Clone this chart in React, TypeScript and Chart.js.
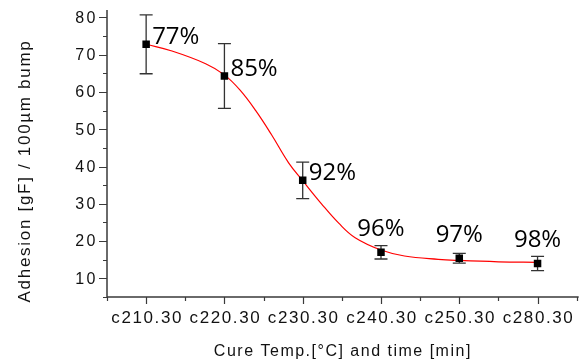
import React, { useEffect, useRef } from 'react';
import { Chart, registerables } from 'chart.js';

Chart.register(...registerables);

// ---- data ----
const categories = ['c210.30', 'c220.30', 'c230.30', 'c240.30', 'c250.30', 'c280.30'];
const adhesion = [72.8, 64.3, 36.3, 17.0, 15.4, 14.0];
const adhesionError = [7.9, 8.7, 4.9, 1.8, 1.3, 1.9];
const yieldLabels = ['77%', '85%', '92%', '96%', '97%', '98%'];
const yieldLabelSide = ['right', 'right', 'right', 'above', 'above', 'above'];

// red fit curve (x in category index units)
const fitX = [0, 0.33, 0.76, 1.0, 1.2, 1.4, 1.6, 1.82, 2.0, 2.24, 2.46, 2.67, 3.0, 3.3, 3.73, 4.0, 4.5, 5.0];
const fitY = [72.8, 71.0, 67.6, 64.6, 60.5, 55.0, 48.6, 41.0, 36.2, 30.0, 24.8, 20.9, 17.6, 16.0, 15.1, 14.8, 14.45, 14.3];

const yMajorTicks = [10, 20, 30, 40, 50, 60, 70, 80];
const yMinorTicks = [5, 15, 25, 35, 45, 55, 65, 75];
const xMinorTicks = [-0.5, 0.5, 1.5, 2.5, 3.5, 4.5, 5.5];

const xTitle = 'Cure Temp.[°C] and time [min]';
const yTitle = 'Adhesion [gF] / 100µm bump';

const AXIS_COLOR = '#3a3a3a';
const TEXT_COLOR = '#111';

const originPlugin = {
  id: 'originLook',
  beforeDatasetsDraw(chart: any) {
    const ctx = chart.ctx;
    const xs = chart.scales.x;
    const ys = chart.scales.y;
    ctx.save();
    ctx.strokeStyle = '#333';
    ctx.lineWidth = 1.3;
    adhesion.forEach((v, i) => {
      const px = xs.getPixelForValue(i);
      const top = ys.getPixelForValue(v + adhesionError[i]);
      const bot = ys.getPixelForValue(v - adhesionError[i]);
      ctx.beginPath();
      ctx.moveTo(px, top);
      ctx.lineTo(px, bot);
      ctx.moveTo(px - 6.5, top);
      ctx.lineTo(px + 6.5, top);
      ctx.moveTo(px - 6.5, bot);
      ctx.lineTo(px + 6.5, bot);
      ctx.stroke();
    });
    ctx.restore();
  },
  afterDatasetsDraw(chart: any) {
    const ctx = chart.ctx;
    const xs = chart.scales.x;
    const ys = chart.scales.y;
    ctx.save();
    ctx.fillStyle = '#000';
    ctx.font = '24px "Open Sans"';
    ctx.textBaseline = 'alphabetic';
    yieldLabels.forEach((t, i) => {
      const px = xs.getPixelForValue(i);
      const py = ys.getPixelForValue(adhesion[i]);
      if (yieldLabelSide[i] === 'right') {
        ctx.textAlign = 'left';
        ctx.fillText(t, px + 6, py);
      } else {
        ctx.textAlign = 'center';
        ctx.fillText(t, px, py - 16);
      }
    });
    ctx.restore();
  },
  afterDraw(chart: any) {
    const ctx = chart.ctx;
    const xs = chart.scales.x;
    const ys = chart.scales.y;
    const { left, right, top, bottom } = chart.chartArea;
    ctx.save();
    // axis lines
    ctx.strokeStyle = AXIS_COLOR;
    ctx.lineWidth = 1.5;
    ctx.beginPath();
    ctx.moveTo(left, top);
    ctx.lineTo(left, bottom);
    ctx.lineTo(right + 2, bottom);
    ctx.stroke();
    // y ticks
    ctx.lineWidth = 1.2;
    ctx.beginPath();
    yMajorTicks.forEach((v) => {
      const py = Math.round(ys.getPixelForValue(v)) + 0.5;
      ctx.moveTo(left - 8, py);
      ctx.lineTo(left, py);
    });
    yMinorTicks.forEach((v) => {
      const py = Math.round(ys.getPixelForValue(v)) + 0.5;
      ctx.moveTo(left - 4, py);
      ctx.lineTo(left, py);
    });
    // x ticks
    categories.forEach((_, i) => {
      const px = Math.round(xs.getPixelForValue(i)) + 0.5;
      ctx.moveTo(px, bottom);
      ctx.lineTo(px, bottom + 7);
    });
    xMinorTicks.forEach((v) => {
      const px = Math.round(xs.getPixelForValue(v)) + 0.5;
      ctx.moveTo(px, bottom);
      ctx.lineTo(px, bottom + 4);
    });
    ctx.stroke();

    // tick labels
    ctx.fillStyle = TEXT_COLOR;
    ctx.font = '16px "Liberation Sans", Arial, sans-serif';
    (ctx as any).letterSpacing = '2.5px';
    ctx.textAlign = 'right';
    ctx.textBaseline = 'middle';
    yMajorTicks.forEach((v) => {
      ctx.fillText(String(v), left - 9, ys.getPixelForValue(v) + 1);
    });
    ctx.font = '17px "Liberation Sans", Arial, sans-serif';
    (ctx as any).letterSpacing = '1.6px';
    ctx.textAlign = 'center';
    ctx.textBaseline = 'alphabetic';
    categories.forEach((c, i) => {
      ctx.fillText(c, xs.getPixelForValue(i) + 1, bottom + 26);
    });

    // titles
    ctx.font = '16px "Liberation Sans", Arial, sans-serif';
    (ctx as any).letterSpacing = '1.5px';
    ctx.fillText(xTitle, (left + right) / 2 + 1, 356);

    ctx.save();
    ctx.font = '17px "Liberation Sans", Arial, sans-serif';
    (ctx as any).letterSpacing = '1.7px';
    ctx.translate(30, 171);
    ctx.rotate(-Math.PI / 2);
    ctx.textAlign = 'center';
    ctx.fillText(yTitle, 0, 0);
    ctx.restore();

    ctx.restore();
  },
};

export default function App() {
  const ref = useRef<HTMLCanvasElement | null>(null);

  useEffect(() => {
    if (!ref.current) return;
    const chart = new Chart(ref.current, {
      type: 'scatter',
      data: {
        datasets: [
          {
            label: 'Adhesion',
            data: adhesion.map((v, i) => ({ x: i, y: v })),
            pointStyle: 'rect',
            pointRadius: 5.3,
            pointBackgroundColor: '#000',
            pointBorderColor: '#000',
            pointBorderWidth: 0,
            showLine: false,
          },
          {
            label: 'Fit',
            data: fitX.map((x, i) => ({ x, y: fitY[i] })),
            showLine: true,
            borderColor: '#ff0000',
            borderWidth: 1.2,
            pointRadius: 0,
            tension: 0.4,
            fill: false,
          },
        ],
      },
      options: {
        animation: false,
        responsive: false,
        devicePixelRatio: 1,
        layout: { padding: { left: 107, top: 10, right: 4, bottom: 65 } },
        scales: {
          x: { type: 'linear', display: false, min: -0.5, max: 5.5 },
          y: { type: 'linear', display: false, min: 5, max: 82 },
        },
        plugins: {
          legend: { display: false },
          tooltip: { enabled: false },
        },
      },
      plugins: [originPlugin],
    } as any);
    return () => chart.destroy();
  }, []);

  return (
    <div style={{ position: 'fixed', left: 0, top: 0, width: 582, height: 362, background: '#fff' }}>
      <canvas ref={ref} width={582} height={362} style={{ display: 'block' }} />
    </div>
  );
}
